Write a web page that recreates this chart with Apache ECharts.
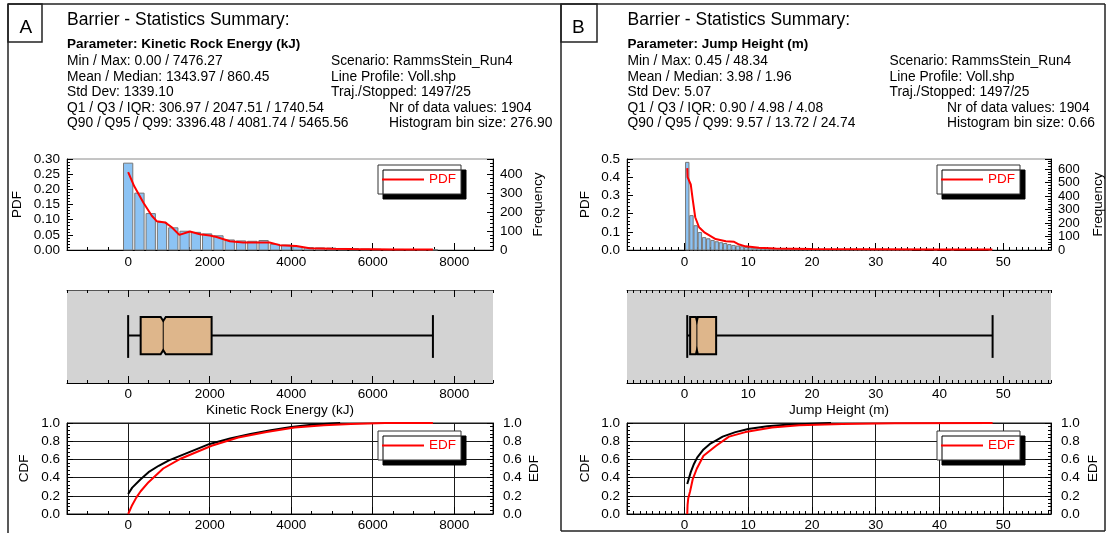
<!DOCTYPE html>
<html>
<head>
<meta charset="utf-8">
<script src="https://cdn.jsdelivr.net/npm/echarts@6/dist/echarts.min.js"></script>
<style>
  html, body { margin: 0; padding: 0; background: #fff; }
  #chart { width: 1109px; height: 533px; }
</style>
</head>
<body>
<div id="chart"></div>
<script>
var FONT = '"Liberation Sans", Arial, sans-serif';

// ---- panel A: kinetic rock energy (kJ)
var energyBin = 276.9;
var energyFreq = [458, 300, 192, 146, 117, 99, 93, 85, 75, 53, 48, 46, 50, 30, 26, 18,
                  13, 11, 10, 8, 7, 5, 4, 3, 3, 2, 1, 1];
var energyPdf = [[0, 0.257], [150, 0.21], [375, 0.156], [580, 0.113], [700, 0.095], [905, 0.091],
                 [1070, 0.075], [1255, 0.05], [1515, 0.061], [1760, 0.052], [2005, 0.048], [2170, 0.043],
                 [2495, 0.029], [2820, 0.025], [3230, 0.025], [3470, 0.025], [3715, 0.016], [4125, 0.013],
                 [4450, 0.006], [5000, 0.004], [5500, 0.003], [6500, 0.002], [7476, 0.002]];
var energyCdf = [[0, 0.22], [100, 0.29], [300, 0.38], [500, 0.46], [750, 0.53], [1000, 0.59], [1500, 0.68],
                 [2000, 0.77], [2500, 0.83], [3000, 0.88], [3500, 0.92], [4000, 0.955], [4500, 0.98],
                 [5000, 0.995], [5200, 1.0]];
var energyEdf = [[0, 0], [100, 0.1], [200, 0.18], [307, 0.25], [500, 0.35], [860, 0.5], [1300, 0.61],
                 [2048, 0.75], [2700, 0.84], [3396, 0.9], [4082, 0.95], [4800, 0.975], [5466, 0.99],
                 [6300, 1.0], [7476, 1.0]];
var energyBox = [0, 306.97, 860.45, 2047.51, 7476.27];   // min, Q1, median, Q3, max
var energyIqr = 1740.54;
var energyTicks = [0, 2000, 4000, 6000, 8000];

// ---- panel B: jump height (m)
var jumpBin = 0.66;
var jumpFreq = [650, 255, 180, 130, 92, 83, 71, 61, 54, 48, 40, 34, 29, 24, 19,
                16, 14, 12, 10, 9, 8, 7, 6, 5, 5, 4, 4, 4, 3, 3, 3, 3, 2, 2, 2, 2, 2, 2, 2, 2,
                1, 1, 1, 1, 1, 1, 1, 1, 1, 1, 1, 1, 1, 1, 0, 0, 1, 0, 0, 1, 0, 0, 0, 1, 0, 0, 0, 0, 0, 0, 0, 0, 1];
var jumpPdf = [[0.45, 0.45], [0.5, 0.40], [1.0, 0.36], [1.3, 0.28], [1.7, 0.18], [2.3, 0.125], [3.2, 0.095],
               [4.9, 0.06], [6.5, 0.048], [7.8, 0.045], [8.6, 0.03], [9.6, 0.02], [11.7, 0.013], [14.3, 0.008],
               [20, 0.005], [30, 0.004], [40, 0.003], [48.3, 0.003]];
var jumpCdf = [[0.45, 0.33], [1, 0.46], [1.5, 0.55], [2, 0.62], [3, 0.71], [4, 0.77], [5, 0.81], [6, 0.85],
               [8, 0.9], [10, 0.935], [13, 0.965], [16, 0.98], [19, 0.99], [23, 1.0]];
var jumpEdf = [[0.45, 0], [0.5, 0.1], [0.6, 0.17], [0.9, 0.25], [1.3, 0.38], [1.96, 0.5], [3, 0.64],
               [4.98, 0.75], [7, 0.85], [9.57, 0.9], [13.72, 0.95], [18, 0.975], [24.74, 0.99],
               [33, 0.998], [48.34, 1.0]];
var jumpBox = [0.45, 0.90, 1.96, 4.98, 48.34];
var jumpIqr = 4.08;
var jumpTicks = [0, 10, 20, 30, 40, 50];

var nValues = 1904;

// header texts
var titleText = 'Barrier - Statistics Summary:';
var infoA = ['Parameter: Kinetic Rock Energy (kJ)', 'Min / Max: 0.00 / 7476.27', 'Mean / Median: 1343.97 / 860.45',
             'Std Dev: 1339.10', 'Q1 / Q3 / IQR: 306.97 / 2047.51 / 1740.54', 'Q90 / Q95 / Q99: 3396.48 / 4081.74 / 5465.56'];
var infoB = ['Parameter: Jump Height (m)', 'Min / Max: 0.45 / 48.34', 'Mean / Median: 3.98 / 1.96',
             'Std Dev: 5.07', 'Q1 / Q3 / IQR: 0.90 / 4.98 / 4.08', 'Q90 / Q95 / Q99: 9.57 / 13.72 / 24.74'];
var runInfo = ['Scenario: RammsStein_Run4', 'Line Profile: Voll.shp', 'Traj./Stopped: 1497/25'];
var countA = ['Nr of data values: 1904', 'Histogram bin size: 276.90'];
var countB = ['Nr of data values: 1904', 'Histogram bin size: 0.66'];

var txt = { color: '#000', fontFamily: FONT, fontSize: 13.5 };
var grids = [], xAxis = [], yAxis = [], series = [], legends = [], graphic = [];

function addGrid(left, top, width, height, extra) {
  grids.push(Object.assign({ left: left, top: top, width: width, height: height }, extra || {}));
  return grids.length - 1;
}

// minor tick axis + major tick/label axis, same scale; returns the minor one for series
function addX(g, range, minor, ticks, o) {
  o = o || {};
  var pos = o.top ? 'top' : 'bottom';
  var idx = xAxis.length;
  xAxis.push({
    type: 'value', gridIndex: g, position: pos, min: range[0], max: range[1], interval: minor,
    axisLine: { show: true, onZero: false, lineStyle: { color: o.lineColor || '#000', width: 1 } },
    axisTick: { show: true, inside: true, length: 3, lineStyle: { color: '#000' } },
    axisLabel: { show: false }, splitLine: { show: false }
  });
  xAxis.push({
    type: 'value', gridIndex: g, position: pos, min: range[0], max: range[1],
    axisLine: { show: false, onZero: false },
    axisTick: { show: true, inside: true, length: 7, customValues: ticks, lineStyle: { color: '#000' } },
    axisLabel: o.labels ? Object.assign({
      show: true, margin: o.margin || 5, customValues: ticks,
      formatter: function (v) { return String(v); }
    }, txt) : { show: false },
    splitLine: { show: !!o.split, lineStyle: { color: '#1a1a1a', width: 1 } },
    name: o.name || '', nameLocation: 'middle', nameGap: o.nameGap || 20, nameTextStyle: txt
  });
  return idx;
}

function addY(g, range, interval, o) {
  var idx = yAxis.length;
  yAxis.push({
    type: 'value', gridIndex: g, position: o.right ? 'right' : 'left',
    min: range[0], max: range[1], interval: interval,
    axisLine: { show: true, onZero: false, lineStyle: { color: '#000' } },
    axisTick: { show: true, inside: true, length: 6, lineStyle: { color: '#000' } },
    minorTick: { show: true, splitNumber: 5, length: 3, lineStyle: { color: '#000' } },
    axisLabel: Object.assign({
      margin: o.margin || 7, showMaxLabel: !o.hideMax, showMinLabel: true, hideOverlap: false,
      formatter: function (v) { return v.toFixed(o.digits); }
    }, txt, o.fontSize ? { fontSize: o.fontSize } : {}),
    splitLine: { show: !!o.split, lineStyle: { color: '#1a1a1a' } },
    name: o.name, nameLocation: 'middle', nameRotate: 90, nameGap: o.gap, nameTextStyle: txt
  });
  return idx;
}

function addHiddenY(g) {
  yAxis.push({ type: 'value', gridIndex: g, min: 0, max: 1, show: false });
  return yAxis.length - 1;
}

function addBars(xi, yi, bin, start, freq, gap) {
  series.push({
    type: 'custom', xAxisIndex: xi, yAxisIndex: yi, silent: true, z: 2,
    data: freq.map(function (f, k) { return [start + k * bin, f]; }),
    renderItem: function (params, api) {
      var c = api.value(0), f = api.value(1);
      if (!f) return null;
      var a = api.coord([c - bin / 2, 0]), b = api.coord([c + bin / 2, f]);
      return {
        type: 'rect',
        shape: { x: a[0] + gap, y: b[1], width: Math.max(b[0] - a[0] - 2 * gap, 0.6), height: a[1] - b[1] },
        style: { fill: '#8cc3f4', stroke: '#777', lineWidth: 1 }
      };
    }
  });
}

function addLine(name, xi, yi, data, color) {
  series.push({
    type: 'line', name: name, xAxisIndex: xi, yAxisIndex: yi, data: data, symbol: 'none',
    silent: true, z: 3, lineStyle: { color: color, width: 2 }, itemStyle: { color: color }
  });
}

function addBox(xi, yi, stats, iqr) {
  var notch = 1.57 * iqr / Math.sqrt(nValues);
  series.push({
    type: 'custom', xAxisIndex: xi, yAxisIndex: yi, silent: true, z: 3,
    data: [stats.concat([notch])],
    renderItem: function (params, api) {
      var v = [0, 1, 2, 3, 4].map(function (i) { return api.value(i); });
      var X = v.map(function (t) { return api.coord([t, 0.5])[0]; });
      var n = api.coord([v[2] + api.value(5), 0.5])[0] - X[2];
      var yT = api.coord([0, 0.71])[1], yB = api.coord([0, 0.31])[1], yM = api.coord([0, 0.51])[1];
      var cT = api.coord([0, 0.73])[1], cB = api.coord([0, 0.27])[1];
      var d = 4;
      var ln = { stroke: '#000', lineWidth: 2 };
      return {
        type: 'group', children: [
          { type: 'line', shape: { x1: X[0], y1: yM, x2: X[4], y2: yM }, style: ln },
          { type: 'line', shape: { x1: X[0], y1: cT, x2: X[0], y2: cB }, style: ln },
          { type: 'line', shape: { x1: X[4], y1: cT, x2: X[4], y2: cB }, style: ln },
          { type: 'polygon', shape: { points: [[X[1], yT], [X[2] - n, yT], [X[2], yT + d], [X[2] + n, yT], [X[3], yT],
              [X[3], yB], [X[2] + n, yB], [X[2], yB - d], [X[2] - n, yB], [X[1], yB]] },
            style: { fill: '#deb68b', stroke: '#000', lineWidth: 2 } },
          { type: 'line', shape: { x1: X[2], y1: yT + d, x2: X[2], y2: yB - d }, style: { stroke: '#000', lineWidth: 1 } }
        ]
      };
    }
  });
}

function addLegend(name, left, top) {
  legends.push({
    data: [{ name: name, icon: 'rect' }], left: left, top: top, selectedMode: false,
    itemWidth: 42, itemHeight: 2, padding: [7, 5, 7, 4],
    itemStyle: { color: '#ff0000', borderWidth: 0 },
    backgroundColor: '#fff', borderColor: '#333', borderWidth: 1,
    shadowColor: '#000', shadowBlur: 0, shadowOffsetX: 5, shadowOffsetY: 5,
    textStyle: { color: '#f00', fontFamily: FONT, fontSize: 13.5, lineHeight: 15 }
  });
}

function buildPanel(p) {
  var L = p.left, W = p.width;
  // histogram + pdf
  var gh = addGrid(L, 159, W, 91, { show: true, borderColor: '#8a8a8a', borderWidth: 1, backgroundColor: '#fff' });
  var xh = addX(gh, p.range, p.minor, p.ticks, { labels: true });
  var ypdf = addY(gh, [0, p.pdfMax], p.pdfStep, { digits: p.pdfDigits, name: 'PDF', gap: p.pdfGap });
  var yfr = addY(gh, [0, p.freqMax], 100, { right: true, digits: 0, hideMax: true, name: 'Frequency',
    gap: p.freqGap, margin: 7, fontSize: p.freqFont });
  addBars(xh, yfr, p.bin, p.box[0], p.freq, p.barGap);
  addLine('PDF', xh, ypdf, p.pdf, '#ff0000');
  addLegend('PDF', p.legendX, 165);

  // box plot
  var gb = addGrid(L, 290, W, 93, { show: true, backgroundColor: '#d3d3d3', borderWidth: 0 });
  var xb = addX(gb, p.range, p.minor, p.ticks, { labels: true, name: p.name, nameGap: 20, margin: 4 });
  addX(gb, p.range, p.minor, p.ticks, { top: true, lineColor: '#555' });
  var yb = addHiddenY(gb);
  addBox(xb, yb, p.box, p.iqr);

  // cdf / edf
  var gc = addGrid(L, 423, W, 91, { show: true, borderColor: '#1a1a1a', borderWidth: 1, backgroundColor: '#fff' });
  var xc = addX(gc, p.range, p.minor, p.ticks, { labels: true, split: true, margin: 4 });
  var ycdf = addY(gc, [0, 1], 0.2, { digits: 1, split: true, name: 'CDF', gap: p.cdfGap, margin: 7 });
  var yedf = addY(gc, [0, 1], 0.2, { right: true, digits: 1, name: 'EDF', gap: p.edfGap, margin: 10 });
  addLine('CDF', xc, ycdf, p.cdf, '#000000');
  addLine('EDF', xc, yedf, p.edf, '#ff0000');
  addLegend('EDF', p.legendX, 431);
}

buildPanel({
  left: 67, width: 426, range: [-1500, 8950], minor: 500, ticks: energyTicks, name: 'Kinetic Rock Energy (kJ)',
  bin: energyBin, freq: energyFreq, pdf: energyPdf, cdf: energyCdf, edf: energyEdf, box: energyBox, iqr: energyIqr,
  pdfMax: 0.3, pdfStep: 0.05, pdfDigits: 2, freqMax: 480, freqFont: 13.5, barGap: 1,
  pdfGap: 43, freqGap: 38, cdfGap: 36, edfGap: 34, legendX: 378
});
buildPanel({
  left: 627, width: 424, range: [-9, 57.5], minor: 1, ticks: jumpTicks, name: 'Jump Height (m)',
  bin: jumpBin, freq: jumpFreq, pdf: jumpPdf, cdf: jumpCdf, edf: jumpEdf, box: jumpBox, iqr: jumpIqr,
  pdfMax: 0.5, pdfStep: 0.1, pdfDigits: 1, freqMax: 675, freqFont: 13, barGap: 0.4,
  pdfGap: 35, freqGap: 40, cdfGap: 35, edfGap: 35, legendX: 937
});

// frames and header text
function line(x1, y1, x2, y2) {
  graphic.push({ type: 'line', silent: true, shape: { x1: x1, y1: y1, x2: x2, y2: y2 }, style: { stroke: '#222', lineWidth: 1.5 } });
}
function text(x, y, s, font) {
  graphic.push({ type: 'text', silent: true, x: x, y: y,
    style: { text: s, font: font, fill: '#000', verticalAlign: 'middle', textVerticalAlign: 'middle' } });
}
line(8, 4, 1105, 4);
line(8, 4, 8, 533);
line(561, 4, 561, 531);
line(1105, 4, 1105, 531);
line(561, 531, 1105, 531);
graphic.push({ type: 'rect', silent: true, shape: { x: 8, y: 4, width: 34, height: 38 }, style: { fill: 'none', stroke: '#222', lineWidth: 1.5 } });
graphic.push({ type: 'rect', silent: true, shape: { x: 561, y: 4, width: 36, height: 38 }, style: { fill: 'none', stroke: '#222', lineWidth: 1.5 } });
text(19.5, 28, 'A', '19px ' + FONT);
text(572, 28, 'B', '19px ' + FONT);

var rowsY = [61, 77, 92.5, 108, 123.5];
[[67, 331, 389, infoA, countA], [627.5, 889.5, 947, infoB, countB]].forEach(function (c) {
  text(c[0], 20, titleText, '17.5px ' + FONT);
  text(c[0], 44.5, c[3][0], 'bold 13.5px ' + FONT);
  for (var i = 1; i < c[3].length; i++) text(c[0], rowsY[i - 1], c[3][i], '13.8px ' + FONT);
  for (var j = 0; j < runInfo.length; j++) text(c[1], rowsY[j], runInfo[j], '13.8px ' + FONT);
  for (var k = 0; k < c[4].length; k++) text(c[2], rowsY[3 + k], c[4][k], '13.8px ' + FONT);
});

var chart = echarts.init(document.getElementById('chart'), null, { renderer: 'canvas' });
chart.setOption({
  animation: false,
  backgroundColor: '#fff',
  textStyle: { fontFamily: FONT },
  grid: grids,
  xAxis: xAxis,
  yAxis: yAxis,
  legend: legends,
  series: series,
  graphic: graphic
});
</script>
</body>
</html>
